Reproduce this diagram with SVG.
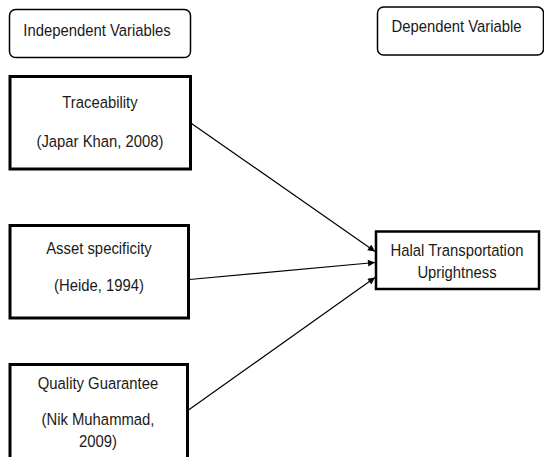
<svg xmlns="http://www.w3.org/2000/svg" width="544" height="457" viewBox="0 0 544 457">
  <style>
    .lbl { font-family: "Liberation Sans", Arial, sans-serif; font-size: 16.5px; fill: #1a1a1a; text-anchor: middle; }
    .hdr { fill: #ffffff; stroke: #000000; stroke-width: 1.5; }
    .box { fill: #ffffff; stroke: #000000; stroke-width: 3; }
    .box2 { fill: #ffffff; stroke: #000000; stroke-width: 2.5; }
    .conn { stroke: #000000; stroke-width: 1.2; fill: none; marker-end: url(#arr); }
  </style>
  <defs>
    <marker id="arr" viewBox="0 0 10 10" refX="10" refY="5" markerWidth="8" markerHeight="7" markerUnits="userSpaceOnUse" orient="auto">
      <path d="M0,0 L10,5 L0,10 Z" fill="#000000"/>
    </marker>
  </defs>
  <rect width="544" height="457" fill="#ffffff"/>

  <g id="independent-header">
    <rect class="hdr" x="9.5" y="9.5" width="181" height="48" rx="6" ry="6"/>
    <text class="lbl" transform="translate(97,36) scale(0.9,1)">Independent Variables</text>
  </g>
  <g id="dependent-header">
    <rect class="hdr" x="377.5" y="7" width="166" height="48" rx="6" ry="6"/>
    <text class="lbl" transform="translate(456.5,32) scale(0.9,1)">Dependent Variable</text>
  </g>

  <g id="traceability">
    <rect class="box" x="10" y="76.5" width="180.5" height="92.5"/>
    <text class="lbl" transform="translate(100,107.5) scale(0.9,1)">Traceability</text>
    <text class="lbl" transform="translate(100,147) scale(0.9,1)">(Japar Khan, 2008)</text>
  </g>
  <g id="asset-specificity">
    <rect class="box" x="10" y="225.5" width="178.5" height="92.5"/>
    <text class="lbl" transform="translate(99,254) scale(0.9,1)">Asset specificity</text>
    <text class="lbl" transform="translate(99,291) scale(0.9,1)">(Heide, 1994)</text>
  </g>
  <g id="quality-guarantee">
    <rect class="box" x="10" y="364.5" width="177.5" height="100"/>
    <text class="lbl" transform="translate(98,389) scale(0.9,1)">Quality Guarantee</text>
    <text class="lbl" transform="translate(98,425) scale(0.9,1)">(Nik Muhammad,</text>
    <text class="lbl" transform="translate(98,446.5) scale(0.9,1)">2009)</text>
  </g>
  <g id="halal-transportation">
    <rect class="box2" x="376" y="231.5" width="163" height="57.5"/>
    <text class="lbl" transform="translate(457,256) scale(0.9,1)">Halal Transportation</text>
    <text class="lbl" transform="translate(457,277.5) scale(0.9,1)">Uprightness</text>
  </g>

  <g id="connectors">
    <line class="conn" x1="191.5" y1="123.5" x2="375" y2="251.5"/>
    <line class="conn" x1="189.5" y1="279.5" x2="375" y2="262.5"/>
    <line class="conn" x1="188.5" y1="410" x2="375" y2="277.5"/>
  </g>
</svg>
